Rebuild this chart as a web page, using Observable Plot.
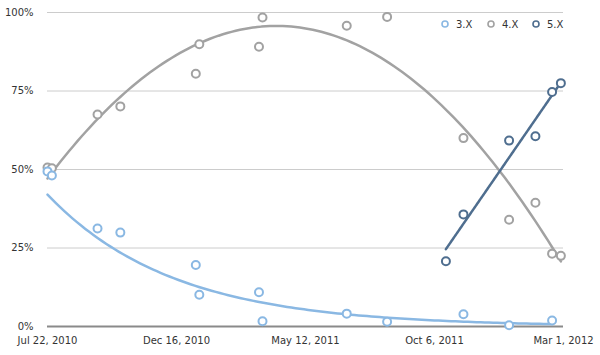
<!DOCTYPE html>
<html><head><meta charset="utf-8">
<script src="https://cdn.jsdelivr.net/npm/d3@7"></script>
<script src="https://cdn.jsdelivr.net/npm/@observablehq/plot@0.6"></script>
<style>
html,body{margin:0;padding:0;background:#fff;}
#wrap{position:relative;width:600px;height:355px;}
.leg{position:absolute;top:18px;height:12px;display:flex;align-items:center;font:10px "DejaVu Sans",sans-serif;color:#333;}
.leg svg{margin-right:7px;}
</style></head><body><div id="wrap"></div>
<script>
// ---- data ----
const dates = ["2010-07-22","2010-07-27","2010-09-17","2010-10-13","2011-01-07","2011-01-11","2011-03-20","2011-03-24","2011-06-28","2011-08-13","2011-10-19","2011-11-08","2011-12-30","2012-01-29","2012-02-17","2012-02-27"];
const v3 = [49.4, 48.1, 31.2, 29.9, 19.6, 10.1, 10.9, 1.7, 4.1, 1.5, null, 3.9, 0.4, null, 1.9, null];
const v4 = [50.6, 50.4, 67.5, 70.1, 80.5, 89.9, 89.1, 98.4, 95.8, 98.6, null, 60.0, 34.0, 39.4, 23.2, 22.5];
const v5 = [null, null, null, null, null, null, null, null, null, null, 20.8, 35.7, 59.2, 60.6, 74.7, 77.5];
const seriesNames = ["3.X", "4.X", "5.X"];
const colors = ["#8ab8e3", "#a2a2a2", "#4f6e8f"];
const xTicks = ["2010-07-22","2010-12-16","2011-05-12","2011-10-06","2012-03-01"];
const yTicks = [0, 0.25, 0.5, 0.75, 1];

// ---- build table ----
const parse = d3.utcParse("%Y-%m-%d");
const values = [v3, v4, v5];
const pts = [];
values.forEach((arr, s) => arr.forEach((v, i) => {
  if (v != null) pts.push({date: parse(dates[i]), value: v / 100, series: seriesNames[s]});
}));

// ---- trend lines fitted from the data ----
const DAY = 864e5;
const t0 = parse(dates[0]).getTime();
function seriesPts(name){ return pts.filter(p => p.series === name).map(p => [(p.date - t0)/DAY, p.value]); }
function solve3(A, b){
  const M = A.map((r,i)=>[...r, b[i]]);
  for (let c=0;c<3;c++){
    let p=c; for(let r=c+1;r<3;r++) if(Math.abs(M[r][c])>Math.abs(M[p][c])) p=r;
    [M[c],M[p]]=[M[p],M[c]];
    for(let r=0;r<3;r++){ if(r===c) continue; const f=M[r][c]/M[c][c]; for(let k=c;k<4;k++) M[r][k]-=f*M[c][k]; }
  }
  return M.map((r,i)=>r[3]/r[i]);
}
function quadFit(P){
  const S=[0,0,0,0,0], T=[0,0,0];
  P.forEach(([t,v])=>{ for(let k=0;k<5;k++) S[k]+=t**k; for(let k=0;k<3;k++) T[k]+=v*t**k; });
  const c = solve3([[S[0],S[1],S[2]],[S[1],S[2],S[3]],[S[2],S[3],S[4]]], T);
  return t => c[0]+c[1]*t+c[2]*t*t;
}
function linFit(P){
  const mt=d3.mean(P,d=>d[0]), mv=d3.mean(P,d=>d[1]);
  const b=d3.sum(P,d=>(d[0]-mt)*(d[1]-mv))/d3.sum(P,d=>(d[0]-mt)**2);
  return t => mv + b*(t-mt);
}
function expFit(P){
  const L = linFit(P.map(([t,v])=>[t, Math.log(v)]));
  return t => Math.exp(L(t));
}
const fits = {"3.X": expFit, "4.X": quadFit, "5.X": linFit};
const trend = [];
seriesNames.forEach(name => {
  const P = seriesPts(name), f = fits[name](P);
  const [a, b] = d3.extent(P, d => d[0]);
  for (let i = 0; i <= 120; i++) {
    const t = a + (b - a) * i / 120;
    trend.push({date: new Date(t0 + t*DAY), value: f(t), series: name});
  }
});

const chart = Plot.plot({
  width: 600, height: 355,
  marginLeft: 47, marginRight: 37, marginTop: 12, marginBottom: 29,
  style: {fontFamily: "'DejaVu Sans', sans-serif", fontSize: "10px", color: "#333", background: "#fff"},
  x: {type: "utc", domain: [parse(xTicks[0]), parse(xTicks[xTicks.length-1])]},
  y: {domain: [0, 1]},
  color: {domain: seriesNames, range: colors},
  marks: [
    Plot.ruleY(yTicks.filter(d => d > 0), {stroke: "#cccccc", strokeWidth: 1}),
    Plot.ruleY([0], {stroke: "#8a8a8a", strokeWidth: 2}),
    Plot.axisX({ticks: xTicks.map(parse), tickFormat: d3.utcFormat("%b %-d, %Y"), tickSize: 0, tickPadding: 10, label: null}),
    Plot.axisY({ticks: yTicks, tickFormat: d3.format(".0%"), tickSize: 0, tickPadding: 14, label: null}),
    Plot.line(trend, {x: "date", y: "value", z: "series", stroke: "series", strokeWidth: 2.5, curve: "linear"}),
    Plot.dot(pts.filter(p=>p.series==="4.X"), {x: "date", y: "value", stroke: "series", r: 4, strokeWidth: 2, fill: "white"}),
    Plot.dot(pts.filter(p=>p.series==="3.X"), {x: "date", y: "value", stroke: "series", r: 4, strokeWidth: 2, fill: "white"}),
    Plot.dot(pts.filter(p=>p.series==="5.X"), {x: "date", y: "value", stroke: "series", r: 4, strokeWidth: 2, fill: "white"})
  ]
});
const wrap = document.getElementById("wrap");
wrap.appendChild(chart);

// legend
const legX = [445, 491, 536];
seriesNames.forEach((name, i) => {
  const d = document.createElement("div");
  d.className = "leg";
  d.style.left = (legX[i] - 4) + "px";
  d.innerHTML = `<svg width="8" height="8"><circle cx="4" cy="4" r="3" fill="white" stroke="${colors[i]}" stroke-width="1.6"/></svg><span>${name}</span>`;
  wrap.appendChild(d);
});
</script>
</body></html>
